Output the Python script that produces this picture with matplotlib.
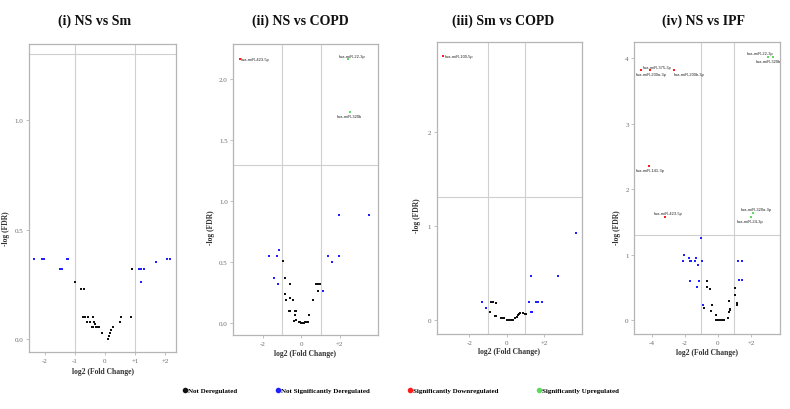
import matplotlib
matplotlib.use("Agg")
import matplotlib.pyplot as plt
from matplotlib.lines import Line2D

# ---------------- data ----------------
titles = ["(i) NS vs Sm", "(ii) NS vs COPD", "(iii) Sm vs COPD", "(iv) NS vs IPF"]
fc_cut = 1.0
fdr_cut = 1.3

# Panel 1: NS vs Sm
p1_nd_x = [-0.98, -0.78, -0.69, -0.73, -0.70, -0.67, -0.57, -0.38, 0.53, 0.88, -0.59, -0.51,
           -0.35, 0.51, -0.33, -0.44, -0.40, -0.29, -0.25, -0.21, 0.26, 0.21, -0.08, 0.17,
           0.15, 0.10, 0.89]
p1_nd_y = [0.26, 0.23, 0.23, 0.10, 0.10, 0.10, 0.10, 0.10, 0.10, 0.10, 0.08, 0.08,
           0.08, 0.08, 0.067, 0.055, 0.055, 0.055, 0.055, 0.055, 0.055, 0.042, 0.027, 0.027,
           0.015, 0.0, 0.32]
p1_nsd_x = [-2.37, -2.11, -2.07, -2.02, -1.26, -1.22, -1.51, -1.42, 1.15, 1.20, 1.31, 1.21,
            1.71, 2.08, 2.16]
p1_nsd_y = [0.365, 0.365, 0.365, 0.365, 0.365, 0.365, 0.32, 0.32, 0.32, 0.32, 0.32, 0.26,
            0.353, 0.365, 0.365]
p1_down_x, p1_down_y, p1_down_names = [], [], []
p1_up_x, p1_up_y, p1_up_names = [], [], []

# Panel 2: NS vs COPD
p2_nd_x = [-0.93, -0.83, -0.58, 0.77, 0.88, 0.96, 0.86, -0.82, -0.79, -0.56, -0.42, 0.60,
           -0.63, -0.56, -0.35, -0.28, -0.32, 0.42, -0.28, -0.38, -0.14, -0.07, 0.0, 0.07,
           0.14, 0.20, 0.28, 0.35]
p2_nd_y = [0.506, 0.37, 0.32, 0.32, 0.32, 0.32, 0.265, 0.235, 0.19, 0.205, 0.19, 0.19,
           0.098, 0.098, 0.098, 0.098, 0.068, 0.068, 0.027, 0.014, 0.01, 0.005, 0.0, 0.0,
           0.0, 0.005, 0.01, 0.01]
p2_nsd_x = [3.52, 1.96, -1.16, -1.69, -1.25, 1.39, 1.96, 1.61, -1.42, -1.23, 1.11]
p2_nsd_y = [0.885, 0.885, 0.60, 0.547, 0.547, 0.547, 0.547, 0.50, 0.37, 0.32, 0.265]
p2_down_x = [-3.2]
p2_down_y = [2.17]
p2_down_names = ["hsa-miR-423-5p"]
p2_up_x = [2.45, 2.55]
p2_up_y = [2.17, 1.73]
p2_up_names = ["hsa-miR-22-3p", "hsa-miR-320b"]

# Panel 3: Sm vs COPD
p3_nd_x = [-0.82, -0.71, -0.59, -0.87, -0.62, -0.59, -0.30, -0.23, -0.12, 0.03, 0.10, 0.17,
           0.24, 0.35, 0.42, 0.53, 0.60, 0.67, 0.74, 0.85, 1.0, 1.06]
p3_nd_y = [0.19, 0.19, 0.18, 0.078, 0.04, 0.04, 0.015, 0.015, 0.015, 0.0, 0.0, 0.0,
           0.0, 0.0, 0.02, 0.03, 0.05, 0.06, 0.075, 0.075, 0.06, 0.06]
p3_nsd_x = [3.70, 1.33, 2.73, -1.34, -1.10, 1.19, 1.57, 1.67, 1.91, 1.28, 1.35]
p3_nsd_y = [0.92, 0.47, 0.47, 0.19, 0.128, 0.19, 0.19, 0.19, 0.19, 0.085, 0.085]
p3_down_x = [-3.40]
p3_down_y = [2.80]
p3_down_names = ["hsa-miR-100-5p"]
p3_up_x, p3_up_y, p3_up_names = [], [], []

# Panel 4: NS vs IPF
p4_nd_x = [-0.65, -0.68, -0.51, -0.84, -0.37, -0.43, -0.10, -0.12, 0.0, 0.10, 0.19, 0.27,
           0.35, 0.58, 0.64, 0.72, 0.76, 0.68, 1.14, 1.18, 1.01, 1.03]
p4_nd_y = [0.60, 0.50, 0.48, 0.19, 0.24, 0.14, 0.077, 0.0, 0.0, 0.0, 0.0, 0.01,
           0.01, 0.04, 0.13, 0.15, 0.17, 0.30, 0.24, 0.27, 0.38, 0.49]
p4_nsd_x = [-1.0, -2.03, -1.78, -1.32, -2.12, -1.70, -1.62, -1.37, -0.94, -1.21, -1.70,
            -1.13, -1.27, -0.88, 1.20, 1.46, 1.26, 1.46]
p4_nsd_y = [1.25, 1.00, 0.95, 0.95, 0.90, 0.90, 0.90, 0.90, 0.90, 0.85, 0.60,
            0.60, 0.51, 0.24, 0.90, 0.90, 0.62, 0.62]
p4_down_x = [-4.12, -4.67, -2.67, -4.16, -3.21]
p4_down_y = [3.81, 3.81, 3.81, 2.35, 1.58]
p4_down_names = ["hsa-miR-375-3p", "hsa-miR-200a-3p", "hsa-miR-200b-3p",
                 "hsa-miR-141-3p", "hsa-miR-423-5p"]
p4_up_x = [3.05, 3.35, 2.10, 2.00]
p4_up_y = [4.01, 4.01, 1.63, 1.58]
p4_up_names = ["hsa-miR-22-3p", "hsa-miR-320b", "hsa-miR-320a-3p", "hsa-miR-24-3p"]

legend_labels = ["Not Deregulated", "Not Significantly Deregulated",
                 "Significantly Downregulated", "Significantly Upregulated"]

# ---------------- layout / style ----------------
col_nd, col_nsd, col_down, col_up = "#111111", "#1f1fff", "#ff1a1a", "#5cdc5c"
SERIF = ["Liberation Serif", "DejaVu Serif"]
SANS = ["Liberation Sans", "DejaVu Sans"]

panels = [
    dict(nd=(p1_nd_x, p1_nd_y), nsd=(p1_nsd_x, p1_nsd_y),
         down=(p1_down_x, p1_down_y, p1_down_names), up=(p1_up_x, p1_up_y, p1_up_names),
         rect=[29, 45, 176, 353], xlim=(-2.53, 2.37), ylim=(-0.059, 1.347),
         xt=[-2, -1, 0, 1, 2], xtl=["-2", "-1", "0", "+1", "+2"],
         yt=[0, 0.5, 1.0], ytl=["0.0", "0.5", "1.0"],
         ylab=(10, 229), xlab_y=368, title_x=95, down_off=[], up_off=[]),
    dict(nd=(p2_nd_x, p2_nd_y), nsd=(p2_nsd_x, p2_nsd_y),
         down=(p2_down_x, p2_down_y, p2_down_names), up=(p2_up_x, p2_up_y, p2_up_names),
         rect=[233.3, 45, 377.7, 336], xlim=(-3.53, 3.97), ylim=(-0.1, 2.29),
         xt=[-2, 0, 2], xtl=["-2", "0", "+2"],
         yt=[0, 0.5, 1.0, 1.5, 2.0], ytl=["0.0", "0.5", "1.0", "1.5", "2.0"],
         ylab=(215, 228), xlab_y=350, title_x=300,
         down_off=[(1, 0)], up_off=[(-10, 3), (-14, -4)]),
    dict(nd=(p3_nd_x, p3_nd_y), nsd=(p3_nsd_x, p3_nsd_y),
         down=(p3_down_x, p3_down_y, p3_down_names), up=(p3_up_x, p3_up_y, p3_up_names),
         rect=[436.7, 43.3, 581.7, 335], xlim=(-3.76, 4.03), ylim=(-0.152, 2.95),
         xt=[-2, 0, 2], xtl=["-2", "0", "+2"],
         yt=[0, 1, 2], ytl=["0", "1", "2"],
         ylab=(420.7, 216), xlab_y=348, title_x=503,
         down_off=[(1, 0)], up_off=[]),
    dict(nd=(p4_nd_x, p4_nd_y), nsd=(p4_nsd_x, p4_nsd_y),
         down=(p4_down_x, p4_down_y, p4_down_names), up=(p4_up_x, p4_up_y, p4_up_names),
         rect=[634.3, 43.3, 780, 335], xlim=(-5.07, 3.76), ylim=(-0.21, 4.24),
         xt=[-4, -2, 0, 2], xtl=["-4", "-2", "0", "+2"],
         yt=[0, 1, 2, 3, 4], ytl=["0", "1", "2", "3", "4"],
         ylab=(620.7, 228), xlab_y=349, title_x=703,
         down_off=[(-7, 3.3), (-5, -4), (0, -4), (-13.6, -4.3), (-11.7, 3.6)],
         up_off=[(-21.6, 4), (-17.3, -3.7), (-12.3, 4), (-14.3, -4.4)]),
]

W, H = 790, 410
fig = plt.figure(figsize=(W / 100, H / 100), dpi=100)
fig.patch.set_facecolor("white")

for i, p in enumerate(panels):
    l, t, r, b = p["rect"]
    ax = fig.add_axes([l / W, 1 - b / H, (r - l) / W, (b - t) / H])
    ax.set_xlim(*p["xlim"])
    ax.set_ylim(*p["ylim"])
    for s in ax.spines.values():
        s.set_color("#b5b5b5")
        s.set_linewidth(0.9)
    ax.axvline(-fc_cut, color="#cfcfcf", lw=0.8, zorder=0)
    ax.axvline(fc_cut, color="#cfcfcf", lw=0.8, zorder=0)
    ax.axhline(fdr_cut, color="#cfcfcf", lw=0.8, zorder=0)

    ax.scatter(p["nd"][0], p["nd"][1], s=2.4, marker="s", color=col_nd, linewidths=0, zorder=3)
    ax.scatter(p["nsd"][0], p["nsd"][1], s=2.4, marker="s", color=col_nsd, linewidths=0, zorder=3)
    dx, dy, dn = p["down"]
    ax.scatter(dx, dy, s=2.4, marker="s", color=col_down, linewidths=0, zorder=3)
    ux, uy, un = p["up"]
    ax.scatter(ux, uy, s=2.4, marker="s", color=col_up, linewidths=0, zorder=3)
    for (x, y, n), off in zip(zip(dx, dy, dn), p["down_off"]):
        ax.annotate(n, (x, y), xytext=off, textcoords="offset pixels", fontsize=2.9,
                    family=SANS, ha="left", va="center", color="#222222", zorder=4)
    for (x, y, n), off in zip(zip(ux, uy, un), p["up_off"]):
        ax.annotate(n, (x, y), xytext=off, textcoords="offset pixels", fontsize=2.9,
                    family=SANS, ha="left", va="center", color="#222222", zorder=4)

    ax.set_xticks(p["xt"])
    ax.set_xticklabels(p["xtl"])
    ax.set_yticks(p["yt"])
    ax.set_yticklabels(p["ytl"])
    ax.tick_params(length=2, width=0.6, color="#b5b5b5", labelsize=5, labelcolor="#6a6a6a", pad=2)
    for lab in ax.get_xticklabels() + ax.get_yticklabels():
        lab.set_family(SERIF)

    ax.set_xlabel("log2 (Fold Change)", fontsize=5.5, fontweight="bold", family=SERIF,
                  color="#333333")
    ax.xaxis.set_label_coords(0.5, (b - p["xlab_y"]) / (b - t))
    ax.set_ylabel("-log (FDR)", fontsize=5.5, fontweight="bold", family=SERIF, color="#333333")
    yx, yy = p["ylab"]
    ax.yaxis.set_label_coords((yx - l) / (r - l), (b - yy) / (b - t))

    fig.text(p["title_x"] / W, 1 - 21 / H, titles[i], fontsize=10, fontweight="bold",
             family=SERIF, ha="center", va="center", color="#111111")

handles = [Line2D([], [], marker="o", ls="none", markersize=4, color=c, markeredgewidth=0)
           for c in (col_nd, col_nsd, col_down, col_up)]
leg = fig.legend(handles, legend_labels, loc="center", bbox_to_anchor=(401 / W, 1 - 391 / H),
                 ncol=4, frameon=False, handlelength=0.6, handletextpad=0.1,
                 columnspacing=5.6, prop=dict(family=SERIF, size=5, weight="bold"))

fig.savefig("out.png", dpi=100, facecolor="white")
